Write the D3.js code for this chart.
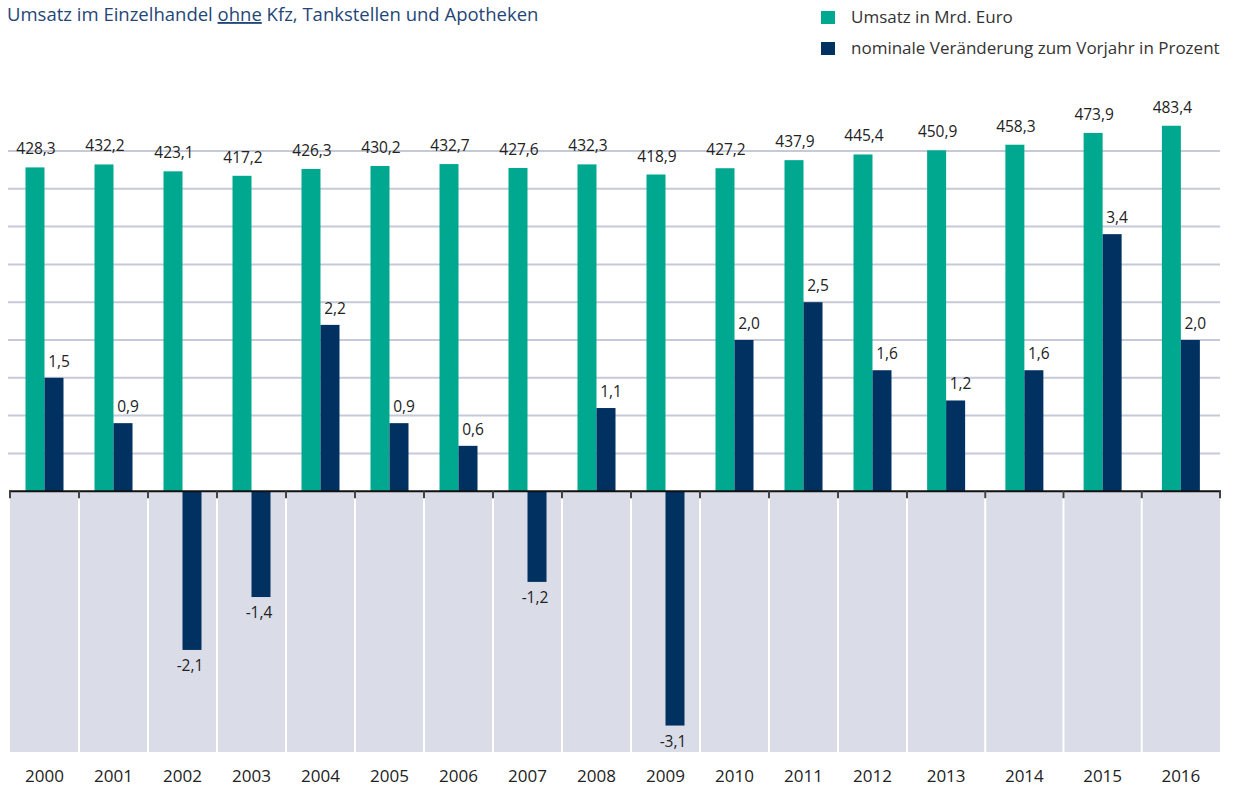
<!DOCTYPE html>
<html>
<head>
<meta charset="utf-8">
<script src="https://cdn.jsdelivr.net/npm/d3@7"></script>
<style>
  body { margin: 0; background: #fff; }
  svg { display: block; font-family: "Open Sans", "Noto Sans", sans-serif; }
</style>
</head>
<body>
<svg id="chart" width="1234" height="789"></svg>
<script>
// data
const years = ["2000","2001","2002","2003","2004","2005","2006","2007","2008","2009","2010","2011","2012","2013","2014","2015","2016"];
const umsatz = [428.3,432.2,423.1,417.2,426.3,430.2,432.7,427.6,432.3,418.9,427.2,437.9,445.4,450.9,458.3,473.9,483.4];
const veraenderung = [1.5,0.9,-2.1,-1.4,2.2,0.9,0.6,-1.2,1.1,-3.1,2.0,2.5,1.6,1.2,1.6,3.4,2.0];
const gridTicks = [0.5,1,1.5,2,2.5,3,3.5,4,4.5];

const green = "#00a88f";
const navy = "#003160";
const fmt = d3.formatLocale({decimal: ",", thousands: ".", minus: "-"}).format(".1f");

const svg = d3.select("#chart");

// cells are a bit wider on the right side of the original
const xEdge = d3.scaleLinear().domain([0, 13, 17]).range([10, 907, 1220]);
const x = i => xEdge(i);
const barW = 19;

const y = d3.scaleLinear().domain([-3.45, 4.5]).range([752, 151]);
const yU = d3.scaleLinear().domain([0, 450]).range([y(0), y(4.5)]);

// title
const title = svg.append("text")
  .attr("x", 7).attr("y", 21)
  .attr("fill", "#1f4677")
  .style("font-size", "18.5px");
title.append("tspan").text("Umsatz im Einzelhandel ");
title.append("tspan").text("ohne").style("text-decoration", "underline");
title.append("tspan").text(" Kfz, Tankstellen und Apotheken");

// legend
const legend = [["Umsatz in Mrd. Euro", green], ["nominale Veränderung zum Vorjahr in Prozent", navy]];
const lg = svg.append("g").selectAll("g").data(legend).join("g")
  .attr("transform", (d, i) => `translate(821, ${11 + i * 31})`);
lg.append("rect").attr("width", 14).attr("height", 13).attr("fill", d => d[1]);
lg.append("text").attr("x", 30).attr("y", 12)
  .attr("fill", "#333").style("font-size", "17px").text(d => d[0]);

// grey area below zero
svg.append("rect")
  .attr("x", x(0)).attr("y", y(0))
  .attr("width", x(17) - x(0)).attr("height", y(-3.45) - y(0))
  .attr("fill", "#dadde7");
svg.append("g").selectAll("line").data(d3.range(1, 17)).join("line")
  .attr("x1", d => x(d)).attr("x2", d => x(d))
  .attr("y1", y(0)).attr("y2", y(-3.45))
  .attr("stroke", "#fff").attr("stroke-width", 2);

// gridlines
svg.append("g").selectAll("line").data(gridTicks).join("line")
  .attr("x1", 8).attr("x2", x(17))
  .attr("y1", d => y(d)).attr("y2", d => y(d))
  .attr("stroke", "#c6c9d7").attr("stroke-width", 2);

// bars
const idx = d3.range(years.length);
const cx = i => (x(i) + x(i + 1)) / 2;

svg.append("g").selectAll("rect").data(idx).join("rect")
  .attr("x", i => cx(i) - barW)
  .attr("y", i => yU(umsatz[i]))
  .attr("width", barW)
  .attr("height", i => yU(0) - yU(umsatz[i]))
  .attr("fill", green);

svg.append("g").selectAll("rect").data(idx).join("rect")
  .attr("x", i => cx(i))
  .attr("y", i => y(Math.max(0, veraenderung[i])))
  .attr("width", barW)
  .attr("height", i => Math.abs(y(veraenderung[i]) - y(0)))
  .attr("fill", navy);

// value labels
svg.append("g").selectAll("text").data(idx).join("text")
  .attr("x", i => cx(i) - barW / 2 + 1)
  .attr("y", i => yU(umsatz[i]) - 13)
  .attr("text-anchor", "middle")
  .attr("fill", "#222").style("font-size", "15.5px")
  .text(i => fmt(umsatz[i]));

svg.append("g").selectAll("text").data(idx).join("text")
  .attr("x", i => cx(i) + barW / 2 + (veraenderung[i] < 0 ? -2 : 5))
  .attr("y", i => veraenderung[i] < 0 ? y(veraenderung[i]) + 21 : y(veraenderung[i]) - 11)
  .attr("text-anchor", "middle")
  .attr("fill", "#222").style("font-size", "15.5px")
  .text(i => fmt(veraenderung[i]));

// zero axis with ticks at cell edges
svg.append("line")
  .attr("x1", x(0) - 1).attr("x2", x(17) + 1)
  .attr("y1", y(0)).attr("y2", y(0))
  .attr("stroke", "#111").attr("stroke-width", 2);
svg.append("g").selectAll("line").data(d3.range(0, 18)).join("line")
  .attr("x1", d => x(d)).attr("x2", d => x(d))
  .attr("y1", y(0)).attr("y2", y(0) + 7)
  .attr("stroke", "#444").attr("stroke-width", 2);

// year labels
svg.append("g").selectAll("text").data(idx).join("text")
  .attr("x", i => cx(i))
  .attr("y", 782)
  .attr("text-anchor", "middle")
  .attr("fill", "#222").style("font-size", "17px")
  .text(i => years[i]);
</script>
</body>
</html>
